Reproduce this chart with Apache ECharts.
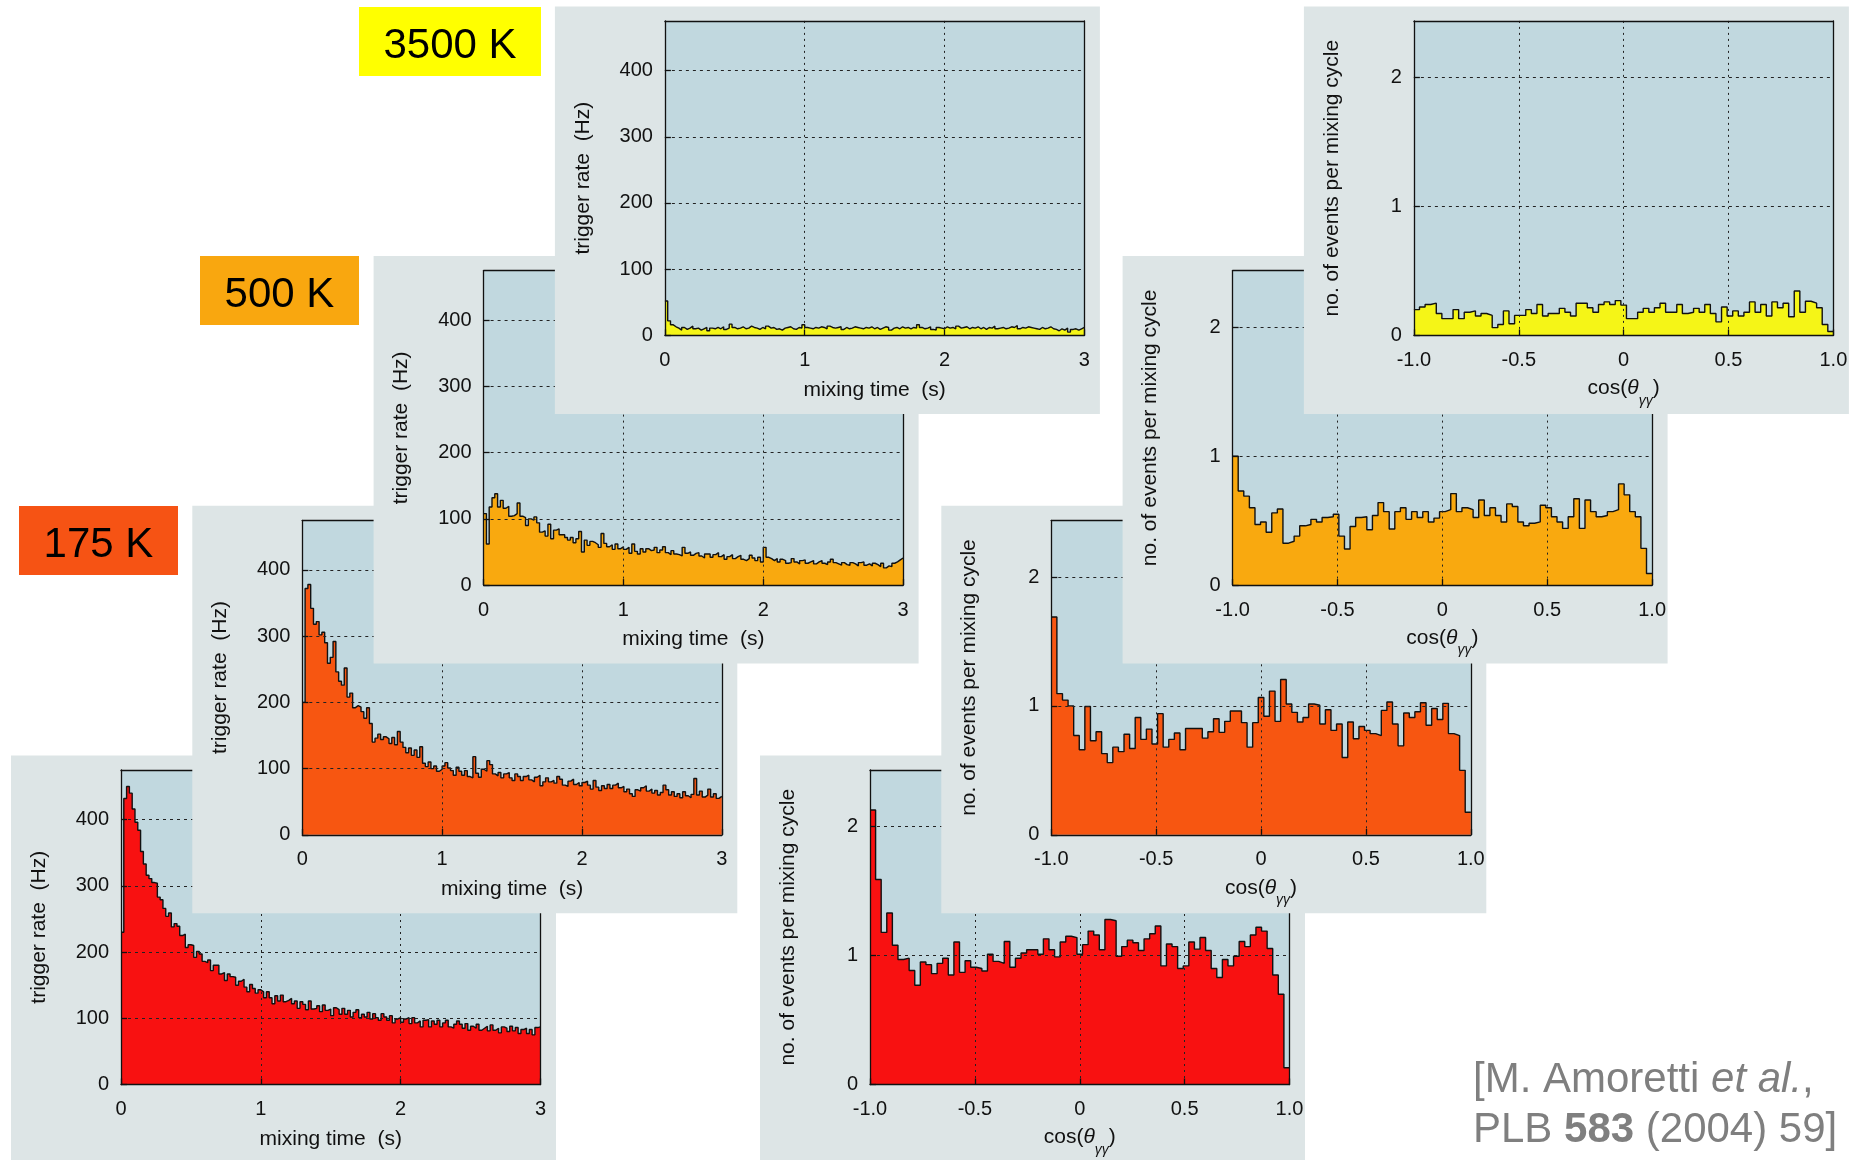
<!DOCTYPE html>
<html>
<head>
<meta charset="utf-8">
<title>Trigger rate and opening-angle distributions</title>
<script src="https://cdn.jsdelivr.net/npm/echarts@6/dist/echarts.min.js"></script>
<style>
  html, body { margin: 0; padding: 0; background: #ffffff; }
  #chart { width: 1857px; height: 1160px; }
</style>
</head>
<body>
<div id="chart"></div>
<script>
// ---- Axis ticks ----
const timeTicks = [0, 1, 2, 3];              // mixing time (s)
const rateTicks = [0, 100, 200, 300, 400];   // trigger rate (Hz)
const rateTop = 475;
const cosTicks = [-1, -0.5, 0, 0.5, 1];      // cos(theta_gg)
const eventTicks = [0, 1, 2];                // events per mixing cycle
const eventTop = 2.44;

const tempLabels = ['3500 K', '500 K', '175 K'];

// ---- Trigger rate, 0.02 s bins from 0 to 3 s ----
const rate3500 = [
  52, 22, 16, 13, 11, 8, 12, 9, 11, 14,
  10, 11, 8, 10, 12, 7, 11, 10, 12, 10,
  13, 9, 11, 17, 12, 10, 11, 13, 10, 11,
  14, 12, 11, 9, 12, 10, 14, 11, 12, 9,
  10, 8, 11, 12, 13, 10, 9, 12, 11, 16,
  12, 11, 10, 12, 11, 13, 12, 10, 14, 12,
  11, 12, 13, 9, 12, 10, 11, 13, 12, 11,
  10, 12, 11, 13, 10, 12, 9, 11, 13, 12,
  8, 11, 12, 10, 13, 11, 12, 10, 12, 11,
  16, 12, 10, 11, 13, 9, 8, 12, 11, 10,
  13, 11, 12, 10, 14, 11, 12, 13, 10, 12,
  11, 13, 10, 12, 9, 12, 11, 14, 10, 11,
  12, 10, 11, 13, 12, 15, 10, 12, 11, 13,
  12, 11, 10, 9, 12, 10, 11, 13, 10, 9,
  7, 10, 8, 11, 5, 9, 10, 8, 10, 12
];
const rate500 = [
  108, 62, 118, 132, 138, 118, 128, 116, 119, 104,
  105, 108, 124, 104, 102, 90, 100, 98, 103, 94,
  80, 82, 74, 92, 70, 83, 85, 76, 76, 72,
  68, 72, 64, 70, 81, 50, 68, 60, 66, 64,
  61, 57, 78, 63, 58, 61, 54, 62, 55, 58,
  54, 57, 48, 62, 51, 47, 55, 50, 55, 52,
  53, 57, 49, 53, 58, 49, 46, 52, 47, 46,
  44, 57, 48, 50, 45, 48, 49, 44, 41, 47,
  47, 42, 46, 49, 43, 46, 39, 43, 46, 40,
  43, 45, 39, 37, 40, 45, 41, 37, 42, 35,
  57, 42, 40, 37, 40, 35, 39, 37, 33, 34,
  40, 35, 32, 37, 38, 33, 35, 37, 32, 35,
  37, 33, 31, 35, 39, 34, 32, 30, 34, 31,
  30, 34, 32, 29, 34, 35, 30, 32, 29, 33,
  31, 28, 33, 26, 29, 28, 33, 35, 38, 41
];
const rate175 = [
  200, 372, 378, 342, 318, 322, 302, 306, 290, 259,
  268, 292, 246, 232, 226, 252, 208, 214, 192, 195,
  193, 186, 176, 192, 168, 140, 146, 152, 144, 148,
  145, 138, 147, 136, 156, 140, 132, 124, 131, 120,
  128, 117, 133, 108, 103, 110, 100, 104, 96, 99,
  104, 109, 101, 97, 90, 102, 96, 90, 97, 88,
  86, 118, 93, 87, 99, 96, 112, 106, 92, 89,
  94, 86, 92, 94, 86, 82, 92, 88, 82, 88,
  90, 83, 80, 87, 90, 74, 80, 86, 80, 82,
  78, 88, 84, 75, 73, 81, 84, 76, 79, 74,
  79, 81, 75, 69, 82, 72, 67, 74, 70, 76,
  70, 75, 78, 71, 73, 65, 69, 62, 58, 68,
  66, 71, 74, 66, 69, 63, 67, 60, 64, 75,
  68, 60, 65, 58, 62, 56, 65, 59, 56, 61,
  85, 60, 66, 57, 60, 69, 57, 62, 55, 58
];
const rateCold = [
  230, 432, 450, 440, 416, 396, 384, 352, 333, 316,
  311, 305, 304, 283, 279, 266, 254, 259, 238, 243,
  239, 225, 227, 207, 211, 210, 192, 201, 197, 186,
  184, 188, 172, 180, 180, 167, 169, 157, 167, 163,
  162, 150, 156, 159, 147, 140, 151, 145, 138, 143,
  140, 131, 140, 131, 122, 134, 126, 135, 125, 127,
  130, 122, 126, 115, 125, 121, 113, 126, 114, 115,
  119, 110, 120, 112, 114, 104, 116, 113, 106, 115,
  106, 112, 102, 109, 113, 101, 106, 102, 109, 99,
  107, 101, 97, 107, 102, 97, 104, 93, 99, 101,
  94, 99, 101, 92, 101, 93, 96, 87, 97, 98,
  87, 96, 91, 97, 87, 93, 97, 87, 85, 91,
  96, 91, 85, 92, 82, 88, 85, 91, 82, 85,
  88, 81, 90, 82, 85, 78, 87, 85, 80, 88,
  81, 86, 77, 83, 85, 77, 83, 75, 86, 87
];

// ---- Events per mixing cycle, 75 bins from -1 to 1 ----
const cos3500 = [
  0.20, 0.22, 0.24, 0.25, 0.17, 0.13, 0.13, 0.20, 0.13, 0.18,
  0.19, 0.15, 0.17, 0.155, 0.06, 0.085, 0.19, 0.09, 0.155, 0.155,
  0.20, 0.17, 0.24, 0.15, 0.17, 0.17, 0.21, 0.18, 0.15, 0.25,
  0.25, 0.215, 0.18, 0.24, 0.26, 0.24, 0.27, 0.235, 0.13, 0.13,
  0.18, 0.21, 0.18, 0.215, 0.25, 0.18, 0.18, 0.24, 0.17, 0.18,
  0.21, 0.18, 0.24, 0.17, 0.105, 0.22, 0.15, 0.19, 0.15, 0.18,
  0.26, 0.18, 0.24, 0.15, 0.26, 0.215, 0.25, 0.145, 0.345, 0.18,
  0.265, 0.25, 0.215, 0.085, 0.03
];
const cos500 = [
  1.00, 0.73, 0.69, 0.60, 0.47, 0.49, 0.41, 0.56, 0.59, 0.325,
  0.34, 0.38, 0.46, 0.47, 0.51, 0.49, 0.525, 0.53, 0.55, 0.38,
  0.28, 0.455, 0.525, 0.53, 0.43, 0.54, 0.64, 0.57, 0.435, 0.57,
  0.60, 0.51, 0.57, 0.525, 0.57, 0.49, 0.52, 0.57, 0.585, 0.71,
  0.57, 0.60, 0.585, 0.525, 0.66, 0.54, 0.60, 0.54, 0.49, 0.63,
  0.61, 0.49, 0.46, 0.48, 0.49, 0.62, 0.60, 0.53, 0.49, 0.44,
  0.53, 0.67, 0.44, 0.66, 0.57, 0.53, 0.54, 0.57, 0.585, 0.785,
  0.70, 0.57, 0.53, 0.285, 0.09
];
const cos175 = [
  1.69, 1.095, 1.045, 1.00, 0.77, 0.66, 0.995, 0.73, 0.80, 0.63,
  0.56, 0.68, 0.645, 0.78, 0.67, 0.91, 0.74, 0.82, 0.705, 0.94,
  0.68, 0.74, 0.79, 0.66, 0.825, 0.825, 0.825, 0.75, 0.80, 0.90,
  0.795, 0.88, 0.96, 0.96, 0.87, 0.68, 0.87, 1.065, 0.92, 1.115,
  0.88, 1.205, 1.015, 0.95, 0.875, 0.91, 1.015, 1.005, 0.86, 0.97,
  0.81, 0.86, 0.60, 0.875, 0.745, 0.84, 0.81, 0.785, 0.77, 0.965,
  1.03, 0.86, 0.69, 0.945, 0.91, 0.955, 1.025, 0.85, 0.98, 0.895,
  1.02, 0.785, 0.77, 0.50, 0.175
];
const cosCold = [
  2.13, 1.59, 1.18, 1.33, 1.08, 0.97, 0.98, 0.885, 0.77, 0.95,
  0.93, 0.86, 0.94, 0.98, 0.85, 1.105, 0.87, 0.96, 0.91, 0.90,
  0.88, 1.01, 0.955, 0.94, 1.11, 0.91, 0.98, 1.02, 1.045, 1.045,
  1.01, 1.13, 1.045, 0.99, 1.105, 1.15, 1.14, 1.01, 1.085, 1.19,
  1.16, 1.045, 1.28, 1.27, 0.995, 1.07, 1.12, 1.10, 1.04, 1.13,
  1.17, 1.23, 0.92, 1.09, 1.07, 0.90, 0.92, 1.105, 1.05, 1.14,
  1.04, 0.90, 0.83, 0.97, 0.92, 0.995, 1.11, 1.07, 1.16, 1.22,
  1.19, 1.055, 0.85, 0.70, 0.13
];

// ---- Layout and styling ----
const FONT = '"Liberation Sans", Arial, Helvetica, sans-serif';
const INK = '#111111';
const PANEL_BG = '#dde5e6';
const PLOT_BG = '#c1d8df';
const PLOT_W = 419.5, PLOT_H = 314.5;
const STEP_X = 181.3, STEP_Y = 249.7;
const TIME_ORIGIN = [121, 770];
const COS_ORIGIN = [870, 770];

// stacked from the back (cold mixing) to the front (3500 K)
const layers = [
  { time: rateCold, cos: cosCold, fill: '#f81111' },
  { time: rate175,  cos: cos175,  fill: '#f75611' },
  { time: rate500,  cos: cos500,  fill: '#f9a90f' },
  { time: rate3500, cos: cos3500, fill: '#f5f517' }
];
const labelBoxes = [
  { x: 359, y: 7,   w: 182, h: 69, fill: '#ffff00' },
  { x: 200, y: 256, w: 159, h: 69, fill: '#f9a70f' },
  { x: 19,  y: 506, w: 159, h: 69, fill: '#f65314' }
];

// Histogram outline: one point per bin edge, drawn as a step line
function histPoints(values, lo, hi) {
  const w = (hi - lo) / values.length;
  const pts = values.map((v, i) => [lo + i * w, v]);
  pts.push([hi, values[values.length - 1]]);
  return pts;
}

const grids = [], xAxes = [], yAxes = [], series = [], graphics = [];
const borderLine = { show: true, onZero: false, lineStyle: { color: INK, width: 1.3 } };
const tickStyle = { show: true, inside: true, length: 6, lineStyle: { color: INK, width: 1.3 } };
const labelFont = { color: INK, fontSize: 20, fontFamily: FONT };
const nameFont = { color: INK, fontSize: 21, fontFamily: FONT, lineHeight: 30 };

const cosName = '{n|cos(}{t|\u03b8}{s|\u03b3\u03b3}{n|)}';
const cosRich = {
  n: { fontSize: 21, fontFamily: FONT, color: INK, lineHeight: 30, verticalAlign: 'top' },
  t: { fontSize: 21, fontFamily: FONT, color: INK, fontStyle: 'italic', lineHeight: 30, verticalAlign: 'top' },
  s: { fontSize: 14, fontFamily: FONT, color: INK, fontStyle: 'italic', lineHeight: 17, verticalAlign: 'bottom' }
};

function addPanel(kind, level, left, top, values, fill) {
  const gi = grids.length;
  const zb = level * 10;
  const isTime = kind === 'time';
  graphics.push({
    type: 'rect', silent: true, z: zb + 1,
    shape: { x: left - 110, y: top - 14.5, width: 545, height: 407.5 },
    style: { fill: PANEL_BG }
  });
  grids.push({
    left: left, top: top, width: PLOT_W, height: PLOT_H,
    show: true, backgroundColor: PLOT_BG, borderWidth: 0,
    z: zb + 2, outerBoundsMode: 'none'
  });
  const xt = isTime ? timeTicks : cosTicks;
  const yt = isTime ? rateTicks : eventTicks;
  xAxes.push({
    type: 'value', gridIndex: gi, position: 'bottom', z: zb + 5,
    min: xt[0], max: xt[xt.length - 1], interval: xt[1] - xt[0],
    axisLine: borderLine, axisTick: tickStyle,
    axisLabel: Object.assign({ margin: 15, formatter: v => isTime ? String(v) : (v === 0 ? '0' : v.toFixed(1)) }, labelFont),
    splitLine: { show: true, showMinLine: false, showMaxLine: false, lineStyle: { color: '#222', width: 1, type: [2, 4] } },
    name: isTime ? 'mixing time  (s)' : cosName,
    nameLocation: 'middle', nameGap: isTime ? 39.5 : 42.5,
    nameTextStyle: isTime ? nameFont : { rich: cosRich }
  });
  xAxes.push({
    type: 'value', gridIndex: gi, position: 'top', z: zb + 5, min: 0, max: 1,
    axisLine: borderLine, axisTick: { show: false }, axisLabel: { show: false }, splitLine: { show: false }
  });
  yAxes.push({
    type: 'value', gridIndex: gi, position: 'left', z: zb + 5,
    min: yt[0], max: isTime ? rateTop : eventTop, interval: yt[1] - yt[0],
    axisLine: borderLine, axisTick: tickStyle,
    axisLabel: Object.assign({ margin: 12, showMaxLabel: false }, labelFont),
    splitLine: { show: true, showMinLine: false, showMaxLine: false, lineStyle: { color: '#222', width: 1, type: [3, 4] } },
    name: isTime ? 'trigger rate  (Hz)' : 'no. of events per mixing cycle',
    nameLocation: 'middle', nameGap: 67, nameTextStyle: nameFont
  });
  yAxes.push({
    type: 'value', gridIndex: gi, position: 'right', z: zb + 5, min: 0, max: 1,
    axisLine: borderLine, axisTick: { show: false }, axisLabel: { show: false }, splitLine: { show: false }
  });
  series.push({
    type: 'line', xAxisIndex: 2 * gi, yAxisIndex: 2 * gi, z: zb + 3,
    data: histPoints(values, xt[0], xt[xt.length - 1]),
    step: 'end', symbol: 'none', silent: true, animation: false,
    lineStyle: { color: INK, width: 1.4 },
    areaStyle: { color: fill, opacity: 1, origin: 'start' }
  });
}

layers.forEach((layer, level) => {
  addPanel('time', level, TIME_ORIGIN[0] + level * STEP_X, TIME_ORIGIN[1] - level * STEP_Y, layer.time, layer.fill);
  addPanel('cos', level, COS_ORIGIN[0] + level * STEP_X, COS_ORIGIN[1] - level * STEP_Y, layer.cos, layer.fill);
});

// Temperature tags
labelBoxes.forEach((b, i) => {
  graphics.push({ type: 'rect', silent: true, z: 60, shape: { x: b.x, y: b.y, width: b.w, height: b.h }, style: { fill: b.fill } });
  graphics.push({
    type: 'text', silent: true, z: 61, x: b.x + b.w / 2, y: b.y + b.h / 2 + 5,
    style: { text: tempLabels[i], fill: '#000', fontSize: 42, fontFamily: FONT, align: 'center', verticalAlign: 'middle' }
  });
});

// Reference
const citeRich = {
  n: { fontSize: 42, fontFamily: FONT, fill: '#7f7f7f' },
  i: { fontSize: 42, fontFamily: FONT, fill: '#7f7f7f', fontStyle: 'italic' },
  b: { fontSize: 42, fontFamily: FONT, fill: '#7f7f7f', fontWeight: 'bold' }
};
graphics.push({
  type: 'text', silent: true, z: 61, x: 1473, y: 1080,
  style: { text: '{n|[M. Amoretti }{i|et al.}{n|,}', rich: citeRich, align: 'left', verticalAlign: 'middle' }
});
graphics.push({
  type: 'text', silent: true, z: 61, x: 1473, y: 1130,
  style: { text: '{n|PLB }{b|583}{n| (2004) 59]}', rich: citeRich, align: 'left', verticalAlign: 'middle' }
});

const chart = echarts.init(document.getElementById('chart'), null, { renderer: 'canvas', width: 1857, height: 1160 });
chart.setOption({
  backgroundColor: '#ffffff',
  animation: false,
  grid: grids,
  xAxis: xAxes,
  yAxis: yAxes,
  series: series,
  graphic: { elements: graphics }
});
</script>
</body>
</html>
